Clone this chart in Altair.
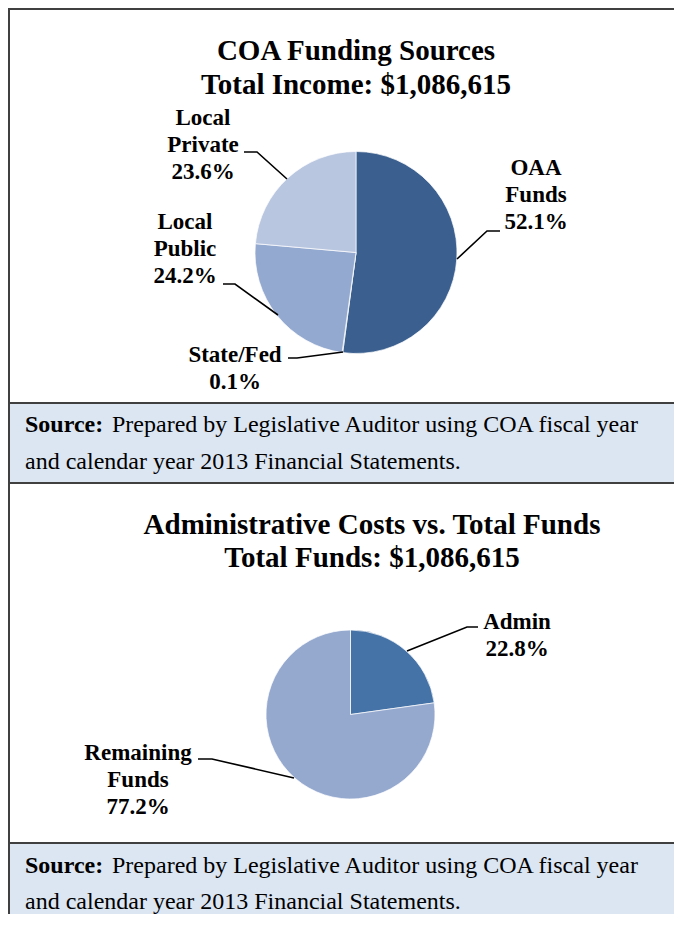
import altair as alt
import pandas as pd

# ---------------- data ----------------
fund_labels = ["OAA Funds", "State/Fed", "Local Public", "Local Private"]
fund_label_lines = [["OAA", "Funds"], ["State/Fed"], ["Local", "Public"], ["Local", "Private"]]
fund_pct = [52.1, 0.1, 24.2, 23.6]

admin_labels = ["Admin", "Remaining Funds"]
admin_label_lines = [["Admin"], ["Remaining", "Funds"]]
admin_pct = [22.8, 77.2]

title1 = ["COA Funding Sources", "Total Income: $1,086,615"]
title2 = ["Administrative Costs vs. Total Funds", "Total Funds: $1,086,615"]
source_bold = "Source:"
source_lines = ["Prepared by Legislative Auditor using COA fiscal year",
                "and calendar year 2013 Financial Statements."]

# ---------------- layout (page pixel coordinates) ----------------
W, H = 666, 906
X0, Y0 = 8, 8          # page position of the chart's top-left corner
FONT = "Liberation Serif"
xs = alt.Scale(domain=[X0, X0 + W], range=[0, W], nice=False, zero=False)
ys = alt.Scale(domain=[Y0, Y0 + H], reverse=True, nice=False, zero=False)

fund_colors = ["#3B5F8E", "#3B5F8E", "#94A9CF", "#B9C6E0"]
admin_colors = ["#4573A7", "#95A9CF"]

pie1 = dict(cx=356, cy=252.5, r=101)
pie2 = dict(cx=350.5, cy=714.5, r=84.5)

fund_label_pos = [(536, 168), (235, 355), (185, 222), (203, 118)]
admin_label_pos = [(517, 622), (138, 753)]
line_h = 27

fund_leaders = [
    [(457, 259), (487, 231), (500, 231)],
    [(343, 352), (297, 358), (288, 358)],
    [(278, 315), (235, 284), (223, 284)],
    [(287, 179), (257, 152), (244, 152)],
]
admin_leaders = [
    [(407, 651), (467, 627), (478, 627)],
    [(294, 778), (212, 759), (198, 759)],
]


def X(f="x"):
    return alt.X(f"{f}:Q", scale=xs, axis=None)


def Y(f="y"):
    return alt.Y(f"{f}:Q", scale=ys, axis=None)


layers = []

# source boxes
boxes = pd.DataFrame([
    {"x": X0, "x2": X0 + W, "y": 403, "y2": 483},
    {"x": X0, "x2": X0 + W, "y": 843, "y2": Y0 + H},
])
layers.append(alt.Chart(boxes).mark_rect(color="#DCE6F2").encode(
    x=X(), x2="x2:Q", y=Y(), y2="y2:Q"))

# frame lines
hlines = pd.DataFrame([
    {"x": X0, "x2": X0 + W, "y": Y0 + 1},
    {"x": X0, "x2": X0 + W, "y": 403},
    {"x": X0, "x2": X0 + W, "y": 483},
    {"x": X0, "x2": X0 + W, "y": 843},
])
layers.append(alt.Chart(hlines).mark_rule(color="#404040", strokeWidth=2).encode(
    x=X(), x2="x2:Q", y=Y()))
vlines = pd.DataFrame([{"x": X0 + 1, "y": Y0, "y2": Y0 + H}])
layers.append(alt.Chart(vlines).mark_rule(color="#404040", strokeWidth=2).encode(
    x=X(), y=Y(), y2="y2:Q"))


def pie_layer(labels, pct, colors, geo):
    df = pd.DataFrame({"label": labels, "pct": pct, "idx": list(range(len(labels))),
                       "cx": geo["cx"], "cy": geo["cy"]})
    return alt.Chart(df).mark_arc(outerRadius=geo["r"], stroke="white", strokeWidth=0.7).encode(
        x=X("cx"), y=Y("cy"),
        theta=alt.Theta("pct:Q", stack=True),
        order=alt.Order("idx:Q"),
        color=alt.Color("label:N", scale=alt.Scale(domain=labels, range=colors), legend=None),
    )


def label_layer(lines, pct, pos):
    rows = []
    for ls, p, (x, y) in zip(lines, pct, pos):
        for i, t in enumerate(ls + [f"{p:.1f}%"]):
            rows.append({"x": x, "y": y + i * line_h, "t": t})
    return alt.Chart(pd.DataFrame(rows)).mark_text(
        font=FONT, fontSize=23, fontWeight="bold", color="black", align="center", baseline="middle"
    ).encode(x=X(), y=Y(), text="t:N")


def leader_layer(leaders):
    rows = []
    for k, pts in enumerate(leaders):
        for j, (x, y) in enumerate(pts):
            rows.append({"k": k, "j": j, "x": x, "y": y})
    return alt.Chart(pd.DataFrame(rows)).mark_line(color="black", strokeWidth=1.6).encode(
        x=X(), y=Y(), detail="k:N", order="j:Q")


def title_layer(lines, cx, ys_):
    df = pd.DataFrame({"t": lines, "x": cx, "y": ys_})
    return alt.Chart(df).mark_text(
        font=FONT, fontSize=29, fontWeight="bold", color="black", align="center", baseline="middle"
    ).encode(x=X(), y=Y(), text="t:N")


def source_layer(y1, y2):
    bold = pd.DataFrame({"t": [source_bold], "x": [25], "y": [y1]})
    reg = pd.DataFrame({"t": source_lines, "x": [112, 25], "y": [y1, y2]})
    a = alt.Chart(bold).mark_text(font=FONT, fontSize=24, fontWeight="bold", color="black",
                                  align="left", baseline="middle").encode(x=X(), y=Y(), text="t:N")
    b = alt.Chart(reg).mark_text(font=FONT, fontSize=24, color="black",
                                 align="left", baseline="middle").encode(x=X(), y=Y(), text="t:N")
    return [a, b]


layers.append(pie_layer(fund_labels, fund_pct, fund_colors, pie1))
layers.append(pie_layer(admin_labels, admin_pct, admin_colors, pie2))
layers.append(leader_layer(fund_leaders + admin_leaders))
layers.append(label_layer(fund_label_lines, fund_pct, fund_label_pos))
layers.append(label_layer(admin_label_lines, admin_pct, admin_label_pos))
layers.append(title_layer(title1, 356, [51, 85]))
layers.append(title_layer(title2, 372, [525, 558]))
layers += source_layer(425, 462)
layers += source_layer(866, 902)

chart = alt.layer(*layers).resolve_scale(
    theta="independent", color="independent"
).properties(
    width=W, height=H, padding=0, autosize=alt.AutoSizeParams(type="none"),
    background="white",
).configure_view(stroke=None)

chart.save("out.html", embed_options={"renderer": "svg", "actions": False})
